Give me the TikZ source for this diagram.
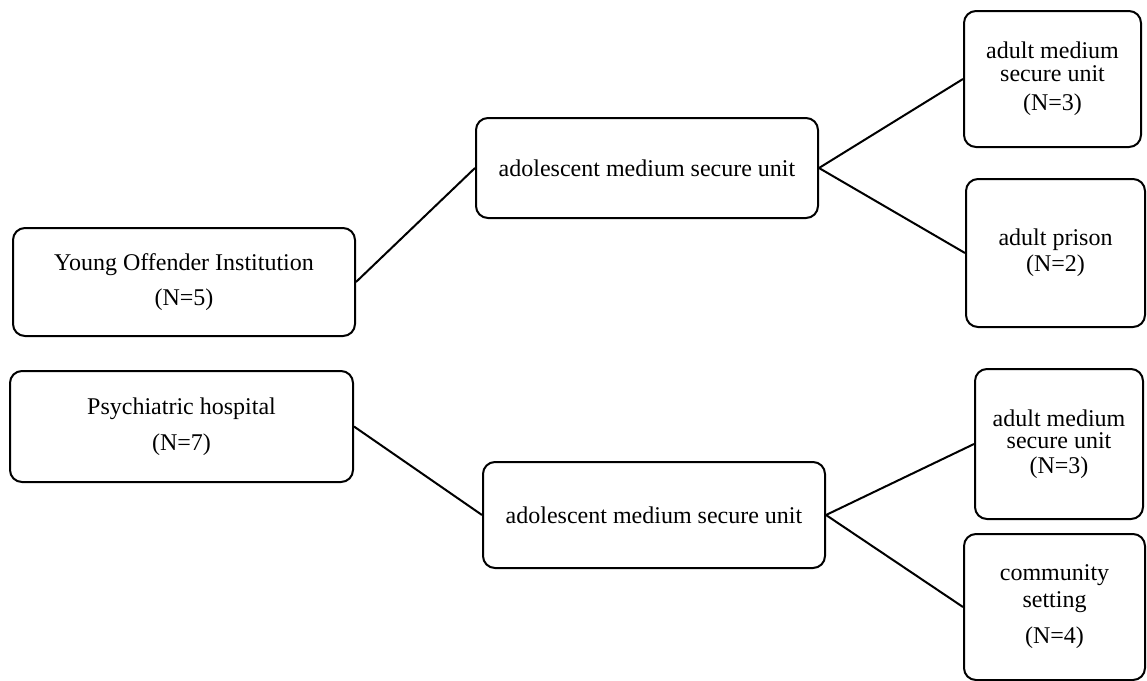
\documentclass[tikz,border=0pt]{standalone}
\usepackage{fontspec}
\setmainfont{Liberation Serif}
\begin{document}
\begin{tikzpicture}[x=1pt,y=-1pt,
  box/.style={draw=black, line width=2pt, rounded corners=12pt, inner sep=0pt,
    align=center, font=\fontsize{24}{24}\selectfont},
  link/.style={draw=black, line width=2pt}]
\useasboundingbox (0,0) rectangle (1147,680);
\clip (0,0) rectangle (1147,680);
\fill[white] (0,0) rectangle (1147,680);

\node[box, minimum width=342pt, minimum height=108pt] (yoi) at (184,282)
  {Young Offender Institution\\[11pt](N=5)};
\node[box, minimum width=343pt, minimum height=111pt] (psy) at (181.5,426.5)
  {Psychiatric hospital\\[12pt](N=7)};
\node[box, minimum width=342pt, minimum height=100pt] (adolA) at (647,168)
  {adolescent medium secure unit};
\node[box, minimum width=342pt, minimum height=106pt] (adolB) at (654,515)
  {adolescent medium secure unit};
\node[box, minimum width=177pt, minimum height=136pt] (amsuA) at (1052.5,79)
  {adult medium\\[-1pt]secure unit\\[5pt](N=3)};
\node[box, minimum width=179pt, minimum height=148pt] (prison) at (1055.5,253)
  {adult prison\\[2pt](N=2)};
\node[box, minimum width=168pt, minimum height=150pt] (amsuB) at (1059,444)
  {adult medium\\[-2pt]secure unit\\[1pt](N=3)};
\node[box, minimum width=181pt, minimum height=146pt] (comm) at (1054.5,607)
  {community\\[3pt]setting\\[12pt](N=4)};

\draw[link] (yoi.east) -- (adolA.west);
\draw[link] (adolA.east) -- (amsuA.west);
\draw[link] (adolA.east) -- (prison.west);
\draw[link] (psy.east) -- (adolB.west);
\draw[link] (adolB.east) -- (amsuB.west);
\draw[link] (adolB.east) -- (comm.west);
\end{tikzpicture}
\end{document}
